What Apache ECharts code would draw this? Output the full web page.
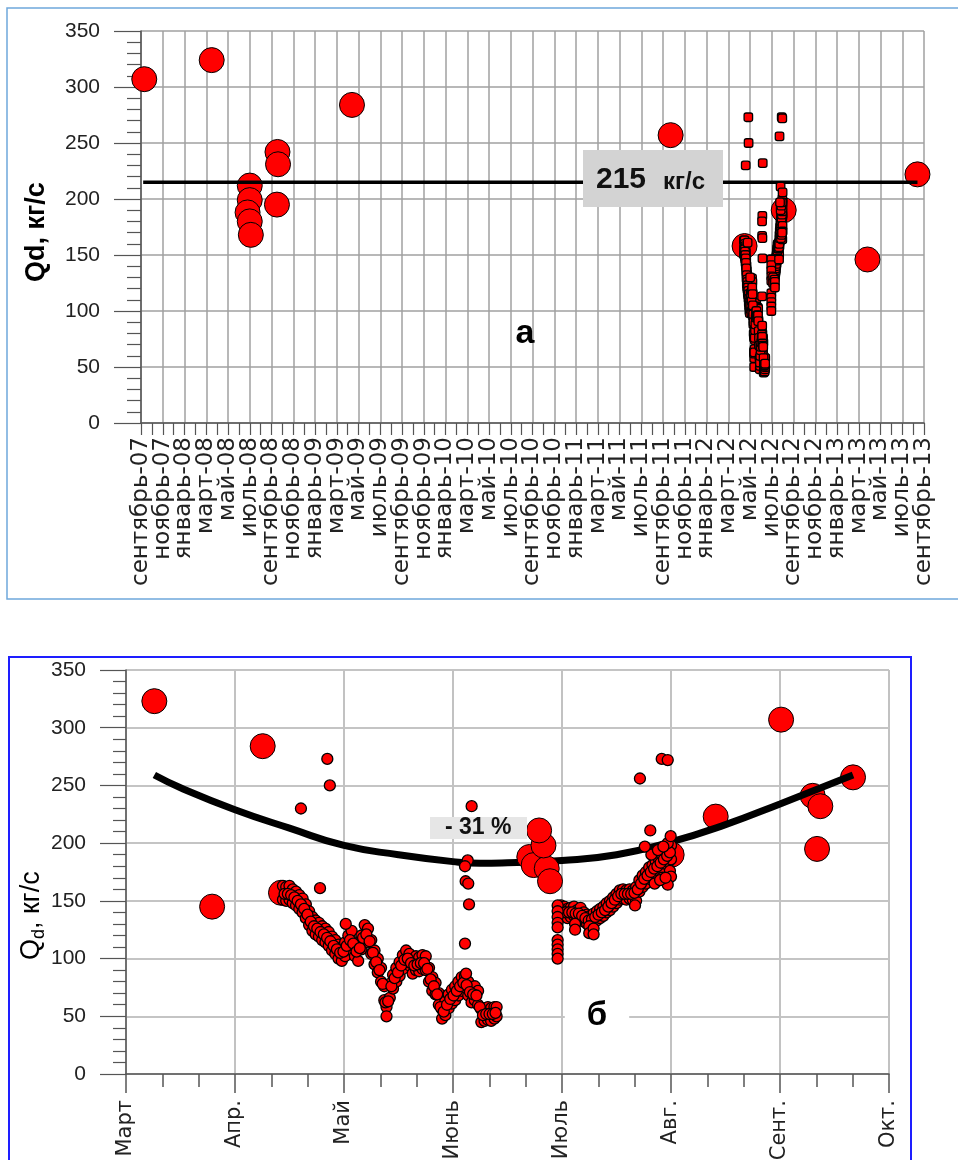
<!DOCTYPE html>
<html><head><meta charset="utf-8">
<script src="https://cdn.jsdelivr.net/npm/echarts@6.0.0/dist/echarts.min.js"></script>
<style>html,body{margin:0;padding:0;background:#fff}#c{width:958px;height:1160px}</style>
</head><body><div id="c"></div>
<script>
// ---------- DATA ----------
// Top chart: x = months since 1 Sep 2007; tick labels every 2 months
const topTickLabels = ['сентябрь-07','ноябрь-07','январь-08','март-08','май-08','июль-08','сентябрь-08','ноябрь-08','январь-09','март-09','май-09','июль-09','сентябрь-09','ноябрь-09','январь-10','март-10','май-10','июль-10','сентябрь-10','ноябрь-10','январь-11','март-11','май-11','июль-11','сентябрь-11','ноябрь-11','январь-12','март-12','май-12','июль-12','сентябрь-12','ноябрь-12','январь-13','март-13','май-13','июль-13','сентябрь-13'];
const topTickStep = 2; // months between labels
// Bottom chart: x = months since 1 March
const bottomTickLabels = ['Март','Апр.','Май','Июнь','Июль','Авг.','Сент.','Окт.'];

// Individual measurements (big circles), top chart [month since Sep-07, Qd]
const bigTop = [[0.3,307],[6.5,324],[10.0,212],[10.0,199],[9.8,188],[10.0,180],[10.1,168],[12.55,242],[12.6,231],[12.5,195],[19.4,284],[48.7,257],[55.5,158],[59.1,190],[66.8,146],[71.4,222]];
// Same measurements placed by season on the bottom chart [month since 1 Mar, Qd]
const bigBottom = [[0.26,323],[0.79,145],[1.254,284],[1.422,157],[5.006,190],[5.41,223],[6.01,307],[6.30,241],[6.37,232],[6.34,195],[6.67,257]];
const bigBottomJune = [[3.70,188],[3.74,181],[3.86,178],[3.89,167],[3.83,198],[3.79,211]];

// 2012 continuous record, month since 1 Mar 2012 — band upper / lower / middle readings
const bandM1 = [1.44,1.47,1.50,1.53,1.56,1.59,1.62,1.65,1.68,1.71,1.74,1.77,1.80,1.83,1.86,1.89,1.92,1.95,1.98,2.01,2.04,2.07,2.10,2.13,2.16,2.19,2.22,2.25,2.28,2.31,2.34,2.37,2.39,2.42,2.45,2.48,2.51,2.54,2.57,2.60,2.63,2.66,2.69,2.72,2.75,2.78,2.81,2.84,2.87,2.90,2.93,2.96,2.99,3.02,3.05,3.08,3.11,3.14,3.17,3.20,3.23,3.26,3.29,3.32,3.35,3.38,3.40];
const bandHi1 = [163,162,163,160,158,155,152,147,141,136,133,131,128,126,123,119,116,112,110,114,120,124,114,110,120,129,126,116,107,100,92,76,58,78,86,92,97,103,107,104,99,102,101,103,102,92,84,79,70,56,63,69,73,76,80,84,85,80,74,76,72,56,57,58,57,58,58];
const bandLo1 = [151,150,151,148,146,143,140,135,129,124,121,119,116,114,111,107,104,100,98,102,108,112,102,98,108,117,114,104,95,88,80,64,50,66,74,80,85,91,97,94,87,90,89,91,90,80,72,69,60,48,51,57,61,64,68,72,75,68,62,64,60,45,46,47,46,48,50];
const bandMid1 = [156,156,155,153,150,147,143,138,132,128,126,123,121,118,115,111,108,105,106,111,116,113,106,109,118,121,115,105,97,90,78,62,63,76,83,88,94,99,100,96,94,95,96,96,91,82,76,69,58,54,60,65,68,72,76,79,77,71,69,68,58,51,52,52,52,53];
const bandM2 = [3.99,4.02,4.05,4.08,4.11,4.14,4.17,4.20,4.23,4.26,4.29,4.32,4.35,4.38,4.41,4.44,4.47,4.50,4.53,4.56,4.59,4.62,4.65,4.68,4.71,4.74,4.77,4.80,4.83,4.86,4.89,4.92,4.95,4.98,5.00];
const bandHi2 = [146,145,143,144,145,142,144,140,138,137,139,141,143,145,148,150,153,156,159,160,159,160,159,162,168,172,175,179,181,184,186,189,192,196,198];
const bandLo2 = [137,137,135,136,137,134,136,132,130,129,131,133,135,137,140,142,145,148,151,152,151,152,151,150,158,162,165,169,171,174,176,179,182,184,186];
const bandMid2 = [141,140,140,140,139,139,137,135,133,134,136,138,140,142,145,148,151,154,156,156,156,156,157,160,165,169,172,175,178,180,183,186,189,192];
const extra2012 = [[3.96,146],[3.96,141],[3.96,136],[3.96,131],[3.96,127],[3.96,116],[3.96,112],[3.96,108],[3.96,104],[3.96,100],[4.12,130],[4.12,125],[4.25,128],[4.25,122],[4.29,126],[4.29,121],[4.97,200],[4.99,176],[5.00,171],[4.97,164],[4.92,170],[4.67,146],[4.85,165],[4.90,168],[4.95,170],[4.82,190],[4.88,194],[4.93,197]];
const outliers2012 = [[1.605,230],[1.847,273],[1.87,250],[1.78,161],[2.016,130],[3.171,232],[3.135,185],[3.11,180],[3.116,167],[3.14,165],[3.147,147],[3.11,113],[3.12,87],[4.715,256],[4.915,273],[4.97,272],[4.81,211],[4.76,197],[4.997,206]];
const monthsSep07ToMar12 = 54;

// Mean level on the top chart and its span
const meanLevel = 215;
const meanSpan = [0.2, 71.4];

// Seasonal trend curve [month since 1 Mar, Qd]
const trendCurve = [[0.26,259],[0.5,248],[1.0,229],[1.5,213],[2.0,198],[2.5,190],[3.0,184],[3.25,182.5],[3.5,183],[4.0,185],[4.5,190],[5.0,201],[5.5,216],[6.0,234],[6.67,259]];

// ---------- build 2012 point list ----------
function bandPoints(M, hi, lo, mid){
  const pts = [];
  M.forEach((m,i)=>{ pts.push([m,hi[i]]); pts.push([m,lo[i]]); });
  mid.forEach((v,i)=>{ pts.push([(M[i]+M[i+1])/2, v]); });
  return pts;
}
const qd2012 = [].concat(
  bandPoints(bandM1, bandHi1, bandLo1, bandMid1),
  bandPoints(bandM2, bandHi2, bandLo2, bandMid2),
  extra2012, outliers2012);

// ---------- CHART ----------
const FF = '"Liberation Sans", Arial, sans-serif';
const FW = '"DejaVu Sans", Verdana, sans-serif';
const chart = echarts.init(document.getElementById('c'), null, {renderer:'canvas'});
const dotStyle = {color:'#ff0000', borderColor:'#000', borderWidth:1, opacity:1};
const smallDotStyle = {color:'#ff0000', borderColor:'#000', borderWidth:1.3, opacity:1};
const axisCol = '#555';

chart.setOption({
  animation:false,
  backgroundColor:'#fff',
  grid:[
    {left:141, top:31, width:783, height:392, outerBoundsMode:'none', containLabel:false},
    {left:126, top:670, width:763, height:404, outerBoundsMode:'none', containLabel:false}
  ],
  xAxis:[
    {gridIndex:0, type:'value', min:0, max:72, interval:topTickStep,
     axisLine:{lineStyle:{color:axisCol, width:1.5}},
     axisTick:{length:12, lineStyle:{color:axisCol, width:1.2}},
     minorTick:{show:true, splitNumber:2, length:12, lineStyle:{color:axisCol, width:1.2}},
     splitLine:{show:true, lineStyle:{color:'#a0a0a0', width:1.5}},
     axisLabel:{show:false}},
    {gridIndex:1, type:'value', min:0, max:7, interval:1,
     axisLine:{lineStyle:{color:axisCol, width:1.5}},
     axisTick:{length:19, lineStyle:{color:axisCol, width:1.5}},
     minorTick:{show:true, splitNumber:3, length:13, lineStyle:{color:axisCol, width:1.5}},
     splitLine:{show:true, lineStyle:{color:'#c2c2c2', width:2}},
     axisLabel:{rotate:90, margin:26, fontSize:21, fontFamily:FW, color:'#222', showMinLabel:true, showMaxLabel:true,
       formatter:v=>bottomTickLabels[Math.round(v)]||''}}
  ],
  yAxis:[
    {gridIndex:0, type:'value', min:0, max:350, interval:50,
     axisLine:{show:true, lineStyle:{color:axisCol, width:1.5}},
     axisTick:{show:true, length:27, lineStyle:{color:axisCol, width:1.2}},
     minorTick:{show:true, splitNumber:5, length:14, lineStyle:{color:axisCol, width:1.2}},
     splitLine:{show:true, lineStyle:{color:'#a0a0a0', width:1.5}},
     axisLabel:{margin:41, fontSize:21, fontFamily:FF, color:'#222'}},
    {gridIndex:1, type:'value', min:0, max:350, interval:50,
     axisLine:{show:true, lineStyle:{color:axisCol, width:1.5}},
     axisTick:{show:true, length:26, lineStyle:{color:axisCol, width:1.2}},
     minorTick:{show:true, splitNumber:5, length:13, lineStyle:{color:axisCol, width:1.2}},
     splitLine:{show:true, lineStyle:{color:'#b0b0b0', width:1.5}},
     axisLabel:{margin:40, fontSize:21, fontFamily:FF, color:'#222'}}
  ],
  series:[
    {type:'scatter', xAxisIndex:0, yAxisIndex:0, z:2, symbol:'circle', symbolSize:25,
     itemStyle:dotStyle, data:bigTop},
    {type:'line', xAxisIndex:0, yAxisIndex:0, z:3, symbol:'none',
     lineStyle:{color:'#000', width:3.5}, data:meanSpan.map(x=>[x, meanLevel])},
    {type:'scatter', xAxisIndex:0, yAxisIndex:0, z:4, symbol:'roundRect', symbolSize:8.5,
     itemStyle:smallDotStyle, data:qd2012.map(p=>[p[0]+monthsSep07ToMar12, p[1]])},

    {type:'scatter', xAxisIndex:1, yAxisIndex:1, z:2, symbol:'circle', symbolSize:25,
     itemStyle:dotStyle, data:bigBottom},
    {type:'line', xAxisIndex:1, yAxisIndex:1, z:3, symbol:'none', smooth:true,
     lineStyle:{color:'#000', width:7}, data:trendCurve},
    {type:'scatter', xAxisIndex:1, yAxisIndex:1, z:4, symbol:'circle', symbolSize:25,
     itemStyle:dotStyle, data:bigBottomJune},
    {type:'scatter', xAxisIndex:1, yAxisIndex:1, z:5, symbol:'circle', symbolSize:11,
     itemStyle:smallDotStyle, data:qd2012}
  ]
});

// Top x-axis tick labels, placed through the axis scale
const axisBottomY = chart.convertToPixel({yAxisIndex:0}, 0);
const topLabelEls = topTickLabels.map((t,i)=>({
  type:'text', z:100, silent:true,
  x: chart.convertToPixel({xAxisIndex:0}, i*topTickStep),
  y: axisBottomY + 14,
  rotation: Math.PI/2,
  style:{text:t, font:'23px '+FW, align:'right', verticalAlign:'middle', fill:'#222'}
}));

chart.setOption({graphic: topLabelEls.concat([
    {type:'rect', silent:true, z:100, shape:{x:7,y:8,width:970,height:591}, style:{fill:'none', stroke:'#6fa8dc', lineWidth:1.5}},
    {type:'rect', silent:true, z:100, shape:{x:9,y:657,width:902,height:540}, style:{fill:'none', stroke:'#1e1eff', lineWidth:2}},
    {type:'text', z:100, x:37, y:232, rotation:Math.PI/2,
     style:{text:'Qd, кг/с', font:'bold 27px '+FF, align:'center', verticalAlign:'middle', fill:'#000'}},
    {type:'group', z:100, x:32, y:960, rotation:Math.PI/2, children:[
      {type:'text', x:0, y:0, style:{text:'Q', font:'27px '+FF, align:'left', verticalAlign:'middle', fill:'#000'}},
      {type:'text', x:21, y:7, style:{text:'d', font:'18px '+FF, align:'left', verticalAlign:'middle', fill:'#000'}},
      {type:'text', x:31, y:0, style:{text:', кг/с', font:'27px '+FF, align:'left', verticalAlign:'middle', fill:'#000'}}
    ]},
    {type:'rect', z:100, shape:{x:583,y:150,width:140,height:57}, style:{fill:'#d3d3d3'}},
    {type:'text', z:101, x:596, y:180, style:{text:'215', font:'bold 30px '+FF, align:'left', verticalAlign:'middle', fill:'#111'}},
    {type:'text', z:101, x:663, y:182, style:{text:'кг/с', font:'bold 24px '+FF, align:'left', verticalAlign:'middle', fill:'#111'}},
    {type:'text', z:101, x:525, y:334, style:{text:'а', font:'bold 34px '+FF, align:'center', verticalAlign:'middle', fill:'#000'}},
    {type:'rect', z:100, shape:{x:430,y:817,width:97,height:22}, style:{fill:'#e6e6e6'}},
    {type:'text', z:101, x:445, y:828, style:{text:'- 31 %', font:'bold 23px '+FF, align:'left', verticalAlign:'middle', fill:'#111'}},
    {type:'text', z:101, x:597, y:1016, style:{text:'б', font:'bold 33px '+FF, align:'center', verticalAlign:'middle', fill:'#000', backgroundColor:'#fff', padding:[2,22,2,22]}}
  ])});
</script></body></html>
